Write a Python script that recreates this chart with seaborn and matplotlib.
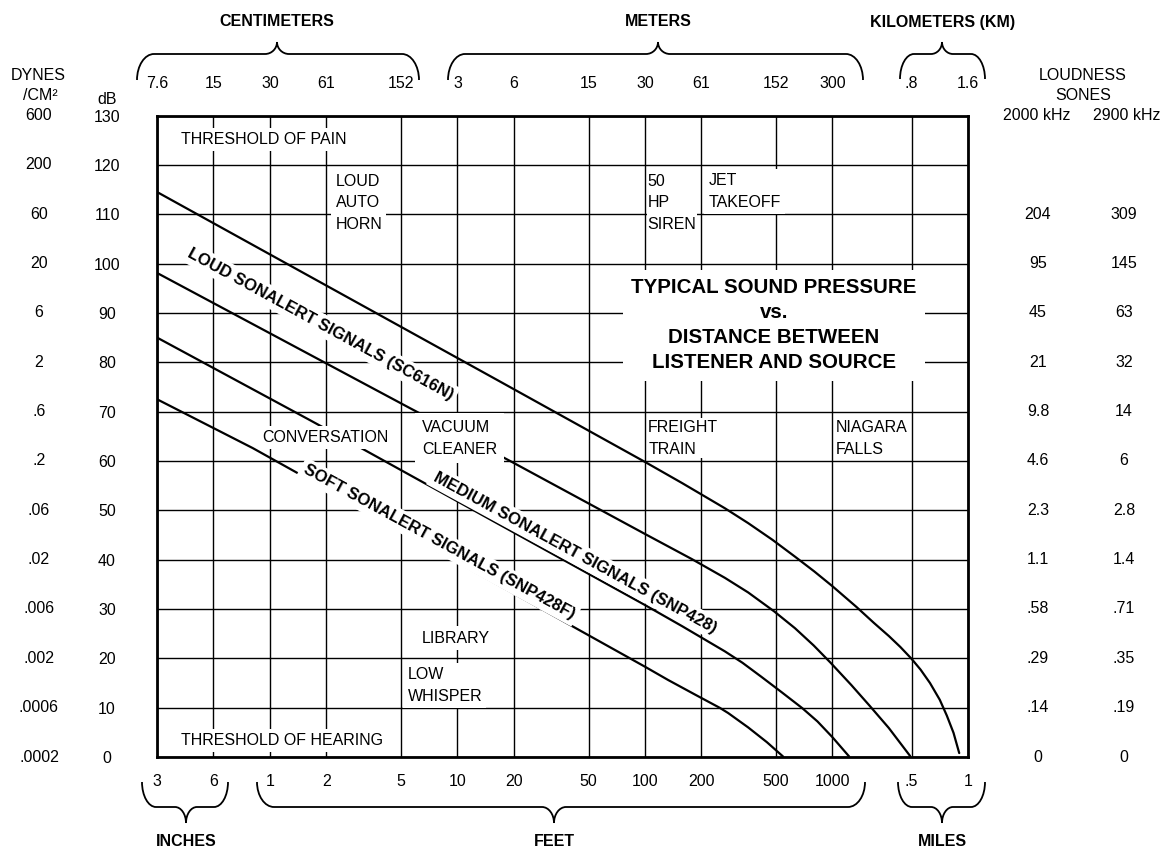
import numpy as np
import pandas as pd
import matplotlib
matplotlib.use("Agg")
import matplotlib.pyplot as plt
import seaborn as sns
from matplotlib.path import Path
from matplotlib.patches import PathPatch
from matplotlib.transforms import Affine2D, blended_transform_factory
from matplotlib.ticker import NullLocator

# ---------------- data ----------------
db_levels = list(range(0, 131, 10))
dynes_labels = ['.0002', '.0006', '.002', '.006', '.02', '.06', '.2', '.6',
                '2', '6', '20', '60', '200', '600']
sones_2000 = ['0', '.14', '.29', '.58', '1.1', '2.3', '4.6', '9.8', '21', '45',
              '95', '204', '', '']
sones_2900 = ['0', '.19', '.35', '.71', '1.4', '2.8', '6', '14', '32', '63',
              '145', '309', '', '']

tick_ft = [0.25, 0.5, 1, 2, 5, 10, 20, 50, 100, 200, 500, 1000, 2640, 5280]
bottom_labels = ['3', '6', '1', '2', '5', '10', '20', '50', '100', '200', '500',
                 '1000', '.5', '1']
top_labels = ['7.6', '15', '30', '61', '152', '3', '6', '15', '30', '61', '152',
              '300', '.8', '1.6']

# distance in feet / sound pressure in dB
loud_upper_ft = [0.25, 16.3, 100, 158, 267, 355, 479, 631, 800, 1000, 1343, 1660,
                 2000, 2300, 2640, 2950, 3310, 3733, 4070, 4420, 4740]
loud_upper_db = [114.5, 76.4, 59.8, 55.5, 50.4, 47.4, 44.0, 40.6, 37.6, 34.6, 30.4, 27.2,
                 24.5, 22.3, 19.9, 17.7, 15.0, 11.6, 8.4, 4.9, 0.8]

loud_lower_ft = [0.25, 5.58, 19.5, 100, 178, 267, 355, 489, 631, 794, 977, 1259,
                 1581, 1995, 2594]
loud_lower_db = [98.1, 70.7, 59.8, 45.2, 40.1, 36.3, 33.35, 29.5, 26.1, 22.6, 19.1, 14.6,
                 10.35, 5.9, 0.2]

medium_lower_ft = [0.25, 1.61, 3.24, 100, 158, 267, 331, 416, 537, 690, 832, 1000, 1227]
medium_lower_db = [85.0, 68.4, 62.1, 30.8, 26.5, 21.4, 19.1, 16.3, 13.1, 9.9, 7.2, 4.0, 0.1]

soft_lower_ft = [0.25, 0.81, 100, 133, 186, 251, 278, 355, 447, 545]
soft_lower_db = [72.5, 62.6, 18.3, 15.6, 12.6, 9.95, 8.9, 6.0, 3.0, 0.1]

curves = {
    'A': (loud_upper_ft, loud_upper_db),
    'B': (loud_lower_ft, loud_lower_db),
    'C': (medium_lower_ft, medium_lower_db),
    'D': (soft_lower_ft, soft_lower_db),
}
df = pd.concat([pd.DataFrame({'ft': f, 'dB': d, 'series': k}) for k, (f, d) in curves.items()],
               ignore_index=True)

# ---------------- figure ----------------
sns.set_theme(style="white")
plt.rcParams['font.family'] = ['Liberation Sans', 'DejaVu Sans']
plt.rcParams['text.color'] = 'black'
plt.rcParams['xtick.color'] = 'black'
plt.rcParams['ytick.color'] = 'black'

W, H = 1160, 849
fig = plt.figure(figsize=(W / 100, H / 100), dpi=100)
fig.patch.set_facecolor('white')
L, R, T, B = 157, 968, 115.5, 757
ax = fig.add_axes([L / W, 1 - B / H, (R - L) / W, (B - T) / H])

def fx(px):
    return px / W

def fy(py):
    return 1 - py / H

sns.lineplot(data=df, x='ft', y='dB', hue='series', estimator=None, sort=False,
             palette={k: 'black' for k in curves}, legend=False, linewidth=1.6,
             ax=ax, zorder=2)

ax.set_xscale('log')
ax.set_xlim(0.25, 5280)
ax.set_ylim(0, 130)
ax.set_xticks(tick_ft)
ax.set_xticklabels(bottom_labels)
ax.xaxis.set_minor_locator(NullLocator())
ax.set_yticks(db_levels)
ax.set_yticklabels([str(v) for v in db_levels])
ax.set_xlabel('')
ax.set_ylabel('')
ax.tick_params(axis='x', length=0, pad=12, labelsize=11.5, labelcolor='black')
ax.tick_params(axis='y', length=0, pad=36, labelsize=11.5, labelcolor='black')
for lbl in ax.get_yticklabels():
    lbl.set_ha('center')
ax.grid(True, which='major', color='black', linewidth=1.0)
ax.set_axisbelow(True)
for sp in ax.spines.values():
    sp.set_color('black')
    sp.set_linewidth(2.0)
    sp.set_visible(True)

ax2 = ax.twiny()
ax2.set_xscale('log')
ax2.set_xlim(0.25, 5280)
ax2.set_xticks(tick_ft)
ax2.set_xticklabels(top_labels)
ax2.xaxis.set_minor_locator(NullLocator())
ax2.tick_params(axis='x', length=0, pad=18, labelsize=11.5, labelcolor='black')
ax2.grid(False)
for sp in ax2.spines.values():
    sp.set_visible(False)

# ---------------- labels inside the chart ----------------
box = dict(facecolor='white', edgecolor='none', pad=3)
fs = 11.5
ls = 1.55
ax.text(0.334, 125.2, 'THRESHOLD OF PAIN', ha='left', va='center', fontsize=fs, bbox=box)
ax.text(2.24, 112.3, 'LOUD\nAUTO\nHORN', ha='left', va='center', fontsize=fs,
        linespacing=ls, bbox=box)
ax.text(103, 112.3, '50\nHP\nSIREN', ha='left', va='center', fontsize=fs,
        linespacing=ls, bbox=dict(facecolor='white', edgecolor='none', pad=0.5))
ax.text(218, 114.6, 'JET\nTAKEOFF', ha='left', va='center', fontsize=fs,
        linespacing=ls, bbox=box)
ax.text(0.912, 64.7, 'CONVERSATION', ha='left', va='center', fontsize=fs, bbox=box)
ax.text(6.49, 64.6, 'VACUUM\nCLEANER', ha='left', va='center', fontsize=fs,
        linespacing=ls, bbox=dict(facecolor='white', edgecolor='none', pad=5))
ax.text(104, 64.6, 'FREIGHT\nTRAIN', ha='left', va='center', fontsize=fs,
        linespacing=ls, bbox=dict(facecolor='white', edgecolor='none', pad=1))
ax.text(1045, 64.6, 'NIAGARA\nFALLS', ha='left', va='center', fontsize=fs,
        linespacing=ls, bbox=dict(facecolor='white', edgecolor='none', pad=1))
ax.text(6.49, 24.1, 'LIBRARY', ha='left', va='center', fontsize=fs, bbox=box)
ax.text(5.42, 14.5, 'LOW\nWHISPER', ha='left', va='center', fontsize=fs,
        linespacing=ls, bbox=box)
ax.text(0.334, 3.4, 'THRESHOLD OF HEARING', ha='left', va='center', fontsize=fs, bbox=box)

ax.text(488, 87.5, 'TYPICAL SOUND PRESSURE\nvs.\nDISTANCE BETWEEN\nLISTENER AND SOURCE',
        ha='center', va='center', fontsize=14.8, fontweight='bold', linespacing=1.4,
        bbox=dict(facecolor='white', edgecolor='none', pad=6))

rbox = dict(facecolor='white', edgecolor='none', pad=2.5)
ax.text(1.86, 87.7, 'LOUD SONALERT SIGNALS (SC616N)', rotation=-28.6, rotation_mode='anchor',
        ha='center', va='center', fontsize=12, fontweight='bold', bbox=rbox)
ax.text(42.3, 41.4, 'MEDIUM SONALERT SIGNALS (SNP428)', rotation=-28.6, rotation_mode='anchor',
        ha='center', va='center', fontsize=12, fontweight='bold', bbox=rbox)
ax.text(7.96, 43.6, 'SOFT SONALERT SIGNALS (SNP428F)', rotation=-28.6, rotation_mode='anchor',
        ha='center', va='center', fontsize=12, fontweight='bold', bbox=rbox)

# ---------------- side columns ----------------
bt = blended_transform_factory(fig.transFigure, ax.transData)
for lvl, dy, s1, s2 in zip(db_levels, dynes_labels, sones_2000, sones_2900):
    ax.text(fx(39), lvl, dy, transform=bt, ha='center', va='center', fontsize=fs, clip_on=False)
    if s1:
        ax.text(fx(1038), lvl, s1, transform=bt, ha='center', va='center', fontsize=fs, clip_on=False)
    if s2:
        ax.text(fx(1124), lvl, s2, transform=bt, ha='center', va='center', fontsize=fs, clip_on=False)

fig.text(fx(38), fy(76), 'DYNES', ha='center', va='center', fontsize=fs)
fig.text(fx(40), fy(96), '/CM²', ha='center', va='center', fontsize=fs)
fig.text(fx(107), fy(99), 'dB', ha='center', va='center', fontsize=fs)
fig.text(fx(1083), fy(76), 'LOUDNESS', ha='center', va='center', fontsize=fs)
fig.text(fx(1083), fy(96), 'SONES', ha='center', va='center', fontsize=fs)
ax.text(fx(1037), 130, '2000 kHz', transform=bt, ha='center', va='center', fontsize=fs, clip_on=False)
ax.text(fx(1127), 130, '2900 kHz', transform=bt, ha='center', va='center', fontsize=fs, clip_on=False)

# ---------------- braces and unit titles ----------------
pix = Affine2D().scale(1 / W, -1 / H).translate(0, 1) + fig.transFigure

def brace(x0, x1, xm, y_end, y_h, y_tip, rx=16, rt=12):
    k = 0.552
    verts = [
        (x0, y_end),
        (x0, y_end + k * (y_h - y_end)), (x0 + rx * (1 - k), y_h), (x0 + rx, y_h),
        (xm - rt, y_h),
        (xm - rt * (1 - k), y_h), (xm, y_tip - k * (y_tip - y_h)), (xm, y_tip),
        (xm, y_tip - k * (y_tip - y_h)), (xm + rt * (1 - k), y_h), (xm + rt, y_h),
        (x1 - rx, y_h),
        (x1 - rx * (1 - k), y_h), (x1, y_end + k * (y_h - y_end)), (x1, y_end),
    ]
    codes = ([Path.MOVETO] + [Path.CURVE4] * 3 + [Path.LINETO] + [Path.CURVE4] * 6 +
             [Path.LINETO] + [Path.CURVE4] * 3)
    fig.patches.append(PathPatch(Path(verts, codes), transform=pix, facecolor='none',
                                 edgecolor='black', linewidth=1.3))

brace(137, 419, 277, 80, 54, 42, rx=17, rt=12)
brace(448, 863, 658, 80, 54, 42, rx=17, rt=12)
brace(900, 985, 942, 79, 54, 42, rx=14, rt=11)
brace(142, 228, 186, 782, 807, 823, rx=14, rt=11)
brace(257, 865, 554, 782, 807, 823, rx=17, rt=12)
brace(898, 985, 942, 782, 807, 823, rx=14, rt=11)

for txt, x, y in [('CENTIMETERS', 277, 22), ('METERS', 658, 22), ('KILOMETERS (KM)', 943, 22),
                  ('INCHES', 186, 842), ('FEET', 554, 842), ('MILES', 942, 842)]:
    fig.text(fx(x), fy(y), txt, ha='center', va='center', fontsize=11.5, fontweight='bold')

fig.savefig('out.png', dpi=100, facecolor='white')
